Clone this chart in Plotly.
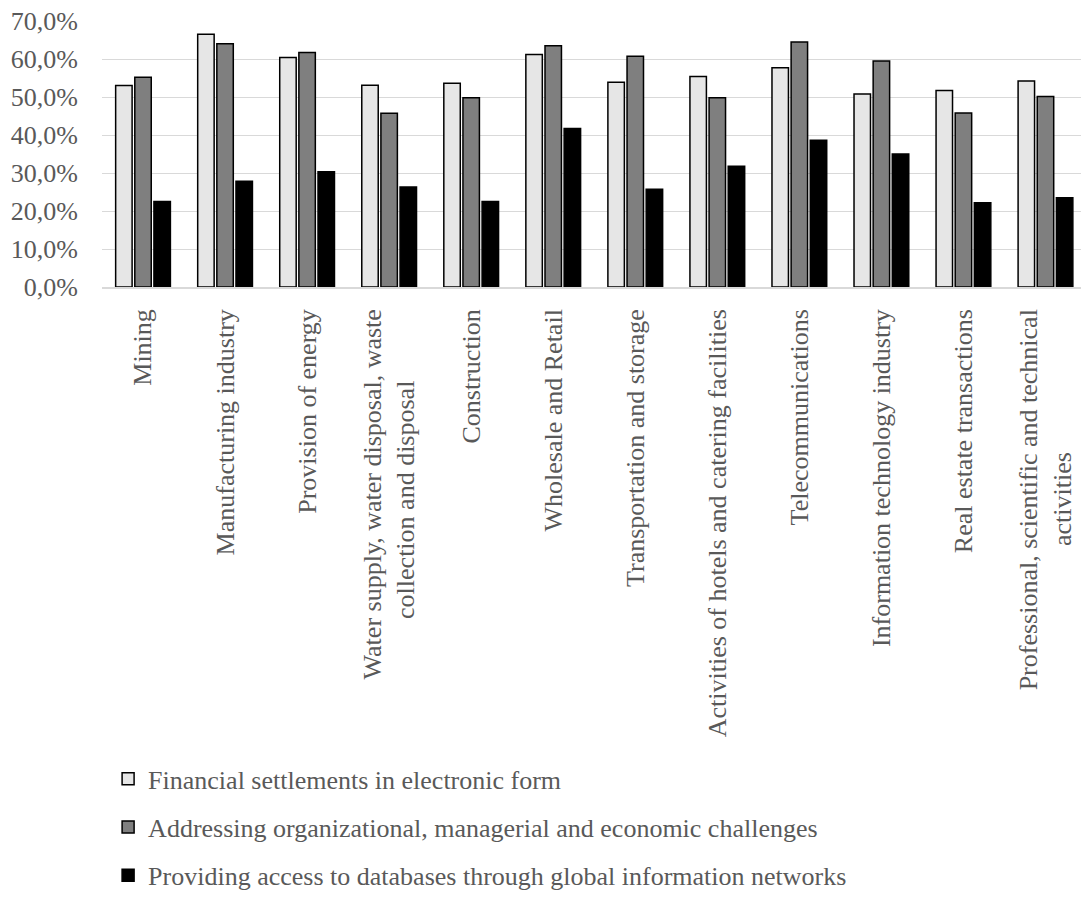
import plotly.graph_objects as go

NB = "\u00a0"
categories = [
    "Mining",
    "Manufacturing industry",
    "Provision of energy",
    "Water supply, water disposal, waste<br>collection and disposal" + NB * 11,
    "Construction",
    "Wholesale and Retail",
    "Transportation and storage",
    "Activities of hotels and catering facilities",
    "Telecommunications",
    "Information technology industry",
    "Real estate transactions",
    "Professional, scientific and technical<br>activities" + NB * 22,
]

series_names = [
    "Financial settlements in electronic form",
    "Addressing organizational, managerial and economic challenges",
    "Providing access to databases through global information networks",
]

financial = [0.530, 0.665, 0.604, 0.531, 0.536, 0.612, 0.539, 0.554, 0.577, 0.508, 0.517, 0.542]
addressing = [0.552, 0.640, 0.617, 0.457, 0.498, 0.635, 0.607, 0.498, 0.645, 0.595, 0.458, 0.501]
providing = [0.225, 0.278, 0.303, 0.263, 0.225, 0.417, 0.257, 0.318, 0.386, 0.350, 0.222, 0.235]

colors = ["#E6E6E6", "#7F7F7F", "#000000"]

TEXT = "#595959"
FONT = "Liberation Serif"

fig = go.Figure()
for name, vals, col, grp in zip(series_names, [financial, addressing, providing], colors, ["a", "b", "c"]):
    fig.add_trace(go.Bar(
        x=list(range(len(categories))), y=vals, name=name,
        marker=dict(color=col, line=dict(color="#000000", width=1.5)),
        legendgroup=grp,
    ))

fig.update_layout(
    width=1081, height=897,
    margin=dict(l=102, r=0, t=21, b=609.5, autoexpand=False),
    paper_bgcolor="white", plot_bgcolor="white",
    separators=", ",
    font=dict(family=FONT, size=26, color=TEXT),
    barmode="group", bargap=0.30, bargroupgap=0.14,
    showlegend=True,
    legend=dict(
        xref="container", yref="container",
        x=0.1, y=0.158, xanchor="left", yanchor="top",
        orientation="v", tracegroupgap=11.5,
        font=dict(family=FONT, size=26, color=TEXT),
        bgcolor="rgba(0,0,0,0)",
        itemclick=False,
    ),
    xaxis=dict(
        tickmode="array", tickvals=list(range(len(categories))), ticktext=categories,
        range=[-0.5, 11.433], tickangle=-90,
        showgrid=False, showline=True, linecolor="#D9D9D9", linewidth=1.5,
        ticks="", ticklabelstandoff=10,
        tickfont=dict(family=FONT, size=26, color=TEXT),
        zeroline=False,
    ),
    yaxis=dict(
        range=[0, 0.7], dtick=0.1, tick0=0, tickformat=".1%",
        showgrid=True, gridcolor="#D9D9D9", gridwidth=1.3,
        zeroline=False, showline=False, ticks="", ticklabelstandoff=23,
        tickfont=dict(family=FONT, size=26, color=TEXT),
    ),
)

fig.write_html("out.html")
